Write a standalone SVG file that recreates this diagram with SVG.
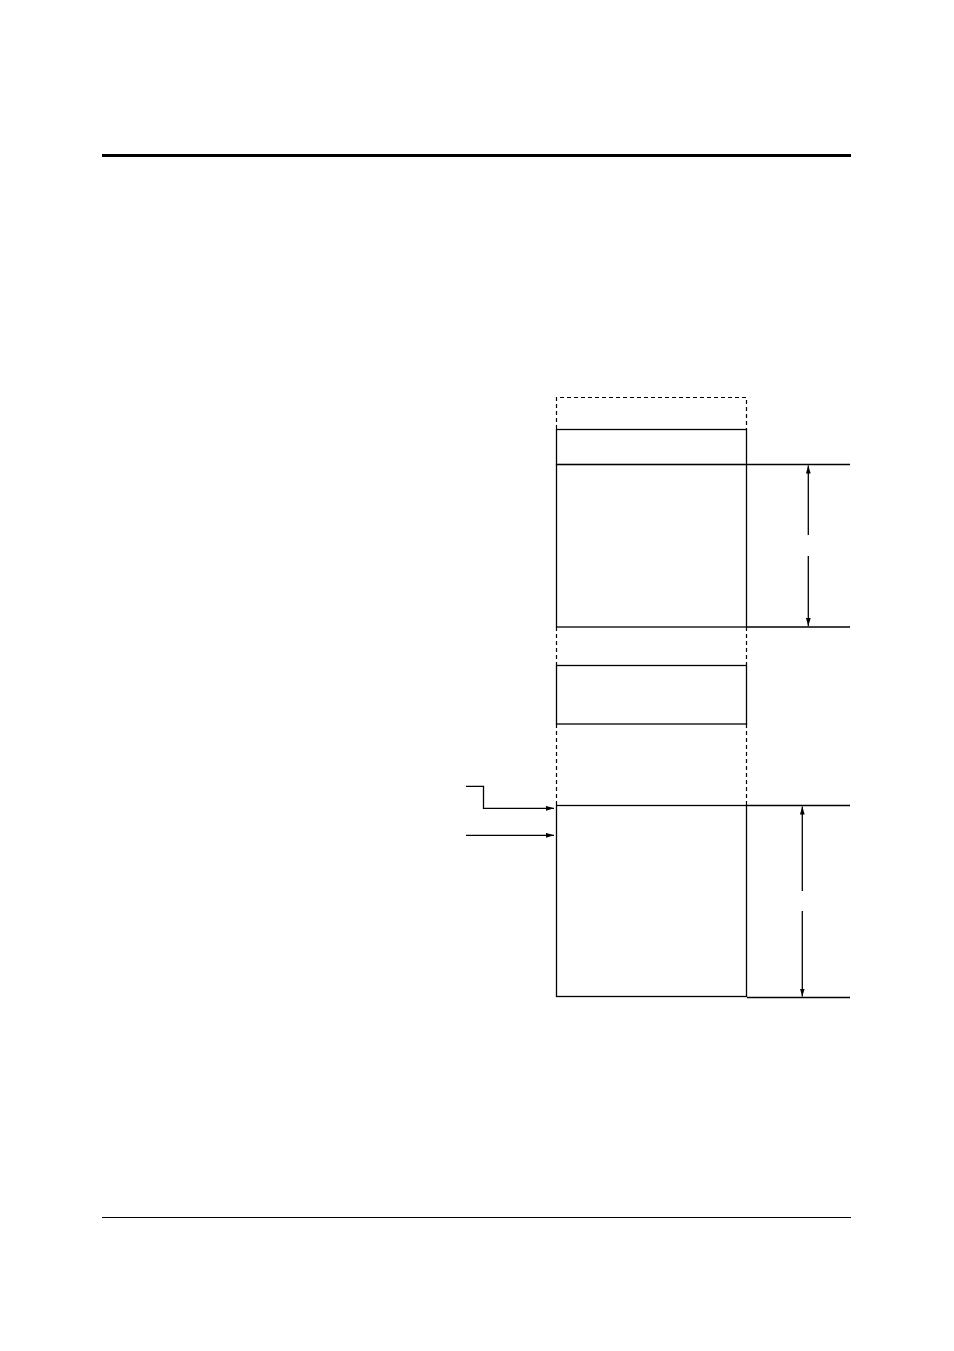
<svg xmlns="http://www.w3.org/2000/svg" width="954" height="1351" viewBox="0 0 954 1351">
<style>
.s{fill:none;stroke:#000;stroke-width:1.3}
.d{fill:none;stroke:#000;stroke-width:1.2;stroke-dasharray:4,3}
</style>
<defs>
<marker id="ah" viewBox="0 0 10 6" refX="10" refY="3" markerWidth="8" markerHeight="5" markerUnits="userSpaceOnUse" orient="auto-start-reverse">
<path d="M0,0L10,3L0,6z" fill="#000"/>
</marker>
</defs>
<rect width="954" height="1351" fill="#fff"/>
<line x1="102" y1="155.5" x2="851" y2="155.5" stroke="#000" stroke-width="3"/>
<line x1="102" y1="1217.5" x2="851" y2="1217.5" stroke="#000" stroke-width="1"/>
<g id="frame">
<path class="d" d="M556.5,429V397.5H746.5V429"/>
<path class="d" d="M556.5,627V665M746.5,627V665"/>
<path class="d" d="M556.5,724V805M746.5,724V805"/>
</g>
<g id="node-top">
<rect class="s" x="556.5" y="429.5" width="190" height="35"/>
</g>
<g id="node-block1">
<rect class="s" x="556.5" y="464.5" width="190" height="162.5"/>
</g>
<g id="node-block2">
<rect class="s" x="556.5" y="665.5" width="190" height="58.5"/>
</g>
<g id="node-block3">
<rect class="s" x="556.5" y="805.5" width="190" height="191"/>
</g>
<g id="connectors">
<line class="s" x1="746.5" y1="464.5" x2="850" y2="464.5"/>
<line class="s" x1="746.5" y1="627" x2="850" y2="627"/>
<line class="s" x1="746.5" y1="805.5" x2="850" y2="805.5"/>
<line class="s" x1="747" y1="997.5" x2="850" y2="997.5"/>
<line class="s" x1="808.3" y1="535" x2="808.3" y2="465.5" marker-end="url(#ah)"/>
<line class="s" x1="808.3" y1="556" x2="808.3" y2="626" marker-end="url(#ah)"/>
<line class="s" x1="802.3" y1="891" x2="802.3" y2="806.5" marker-end="url(#ah)"/>
<line class="s" x1="802.3" y1="911" x2="802.3" y2="996.5" marker-end="url(#ah)"/>
<path class="s" d="M466,786.3H483.5V808.3H554" marker-end="url(#ah)"/>
<line class="s" x1="466" y1="835.3" x2="554" y2="835.3" marker-end="url(#ah)"/>
</g>
</svg>
